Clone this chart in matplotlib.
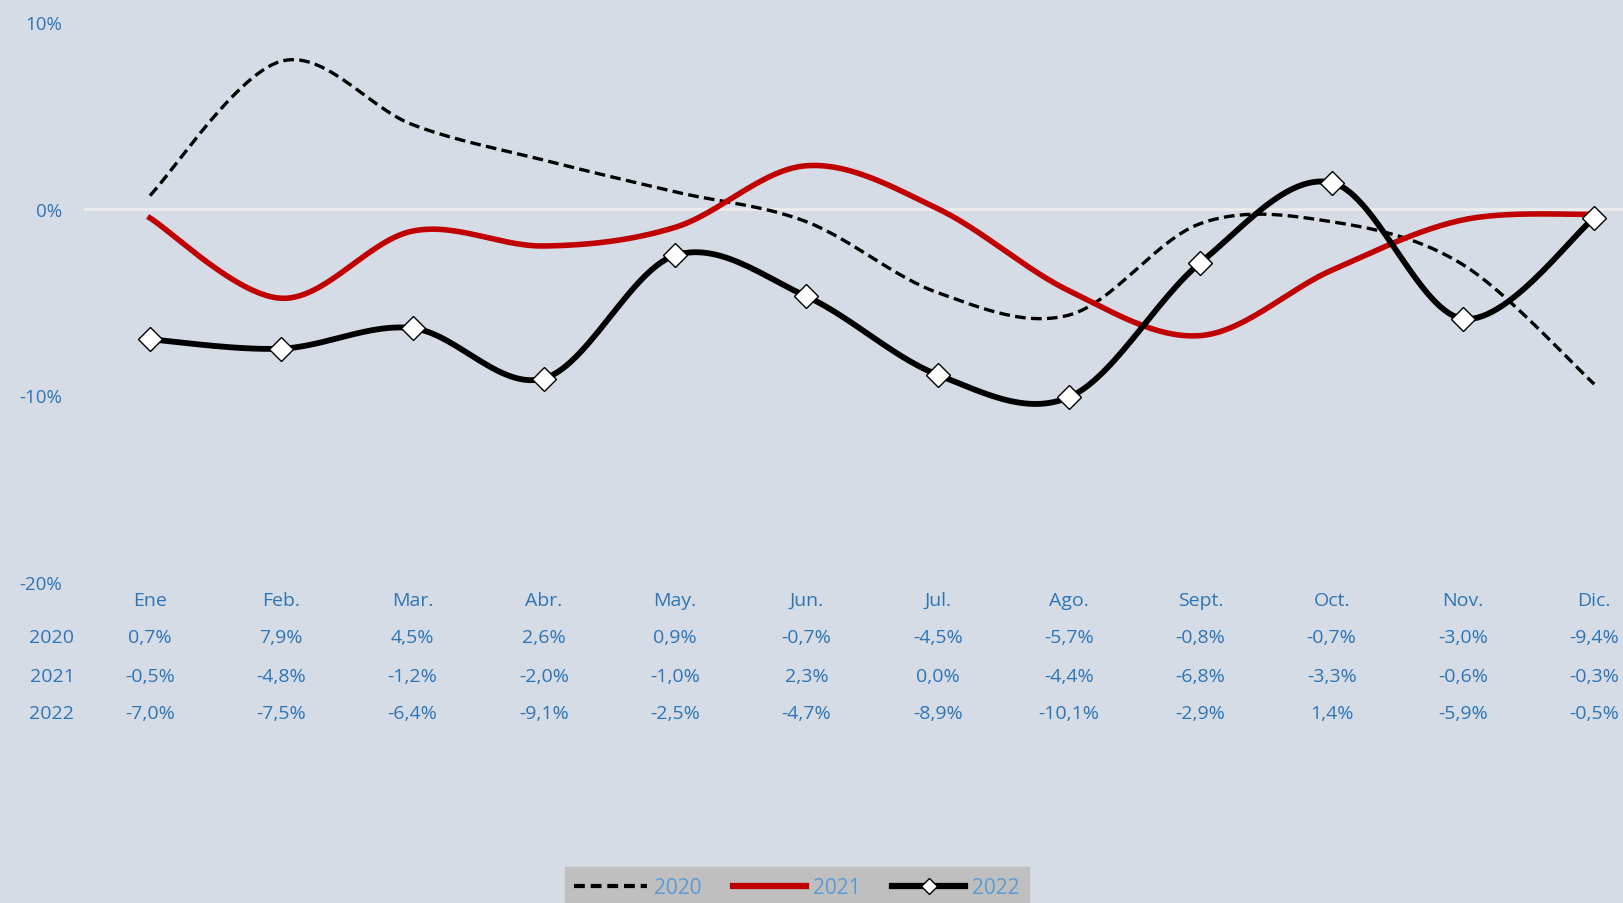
import numpy as np
import matplotlib
matplotlib.use("Agg")
import matplotlib.pyplot as plt
from matplotlib.lines import Line2D
from matplotlib.transforms import blended_transform_factory

# monthly variation
months = ["Ene", "Feb.", "Mar.", "Abr.", "May.", "Jun.", "Jul.", "Ago.", "Sept.", "Oct.", "Nov.", "Dic."]
years = ["2020", "2021", "2022"]
v2020 = [0.7, 7.9, 4.5, 2.6, 0.9, -0.7, -4.5, -5.7, -0.8, -0.7, -3.0, -9.4]
v2021 = [-0.5, -4.8, -1.2, -2.0, -1.0, 2.3, 0.0, -4.4, -6.8, -3.3, -0.6, -0.3]
v2022 = [-7.0, -7.5, -6.4, -9.1, -2.5, -4.7, -8.9, -10.1, -2.9, 1.4, -5.9, -0.5]
yticks = [10, 0, -10, -20]

BG = "#D6DCE5"
TXT = "#2E75B6"
LEG_TXT = "#5B9BD5"


def smooth(y, n=30):
    """Excel-like smoothed line: Catmull-Rom bezier through the points."""
    y = np.asarray(y, dtype=float)
    x = np.arange(len(y), dtype=float)
    xs, ys = [], []
    for i in range(len(y) - 1):
        p0 = (x[i - 1], y[i - 1]) if i > 0 else (x[i], y[i])
        p1 = (x[i], y[i])
        p2 = (x[i + 1], y[i + 1])
        p3 = (x[i + 2], y[i + 2]) if i + 2 < len(y) else (x[i + 1], y[i + 1])
        c1 = (p1[0] + (p2[0] - p0[0]) / 6, p1[1] + (p2[1] - p0[1]) / 6)
        c2 = (p2[0] - (p3[0] - p1[0]) / 6, p2[1] - (p3[1] - p1[1]) / 6)
        t = np.linspace(0, 1, n)
        b0, b1, b2, b3 = (1 - t) ** 3, 3 * t * (1 - t) ** 2, 3 * t ** 2 * (1 - t), t ** 3
        xs.append(b0 * p1[0] + b1 * c1[0] + b2 * c2[0] + b3 * p2[0])
        ys.append(b0 * p1[1] + b1 * c1[1] + b2 * c2[1] + b3 * p2[1])
    return np.concatenate(xs), np.concatenate(ys)


def pct(v):
    return f"{v:.1f}%".replace(".", ",")


plt.rcParams["font.family"] = ["Open Sans", "DejaVu Sans"]

W, H = 1623, 904
fig = plt.figure(figsize=(W / 100, H / 100), dpi=100, facecolor=BG)

# plot area runs past the right edge, like the cropped original
left_px, right_px, top_px, bot_px = 84.3, 1659.9, 23, 583
ax = fig.add_axes([left_px / W, 1 - bot_px / H, (right_px - left_px) / W, (bot_px - top_px) / H])
ax.set_facecolor(BG)
for s in ax.spines.values():
    s.set_visible(False)

ax.set_xlim(-0.5, 11.5)
ax.set_ylim(-20, 10)
ax.axhline(0, color="#ECECEC", lw=2, zorder=1)

x, y = smooth(v2020)
ax.plot(x, y, color="black", lw=2.4, ls=(0, (3.2, 1.6)), zorder=3)
x, y = smooth(v2021)
ax.plot(x, y, color="#C00000", lw=4, zorder=3)
x, y = smooth(v2022)
ax.plot(x, y, color="black", lw=4.2, zorder=4)
ax.plot(range(len(months)), v2022, ls="none", marker="D", ms=12,
        mfc="white", mec="black", mew=1, zorder=5)

ax.set_xticks([])
ax.set_yticks(yticks)
ax.set_yticklabels([f"{t}%" for t in yticks], color=TXT, fontsize=13.5)
ax.tick_params(axis="y", length=0, pad=16)

# data table under the plot
fs = 14
tr = blended_transform_factory(ax.transData, fig.transFigure)
row_y = [1 - 638 / H, 1 - 677 / H, 1 - 714 / H]
for i, m in enumerate(months):
    ax.text(i, 1 - 601 / H, m, transform=tr, ha="center", va="center", color=TXT, fontsize=fs)
for ry, yr, vals in zip(row_y, years, [v2020, v2021, v2022]):
    fig.text(52 / W, ry, yr, ha="center", va="center", color=TXT, fontsize=fs)
    for i, v in enumerate(vals):
        ax.text(i, ry, pct(v), transform=tr, ha="center", va="center", color=TXT, fontsize=fs)

handles = [
    Line2D([], [], color="black", lw=3, ls=(0, (2.6, 1.4))),
    Line2D([], [], color="#C00000", lw=4.5),
    Line2D([], [], color="black", lw=4.5, marker="D", ms=8, mfc="white", mec="black"),
]
leg = fig.legend(handles, years, loc="upper center", bbox_to_anchor=(797 / W, 1 - 858 / H),
                 ncol=3, frameon=True, fancybox=False, fontsize=15, handlelength=3.5,
                 handletextpad=0.35, columnspacing=1.5, borderpad=0.45, labelcolor=LEG_TXT)
leg.get_frame().set_facecolor("#BFBFBF")
leg.get_frame().set_edgecolor("#BFBFBF")
leg.get_frame().set_alpha(1)

fig.savefig("out.png", dpi=100, facecolor=BG)
